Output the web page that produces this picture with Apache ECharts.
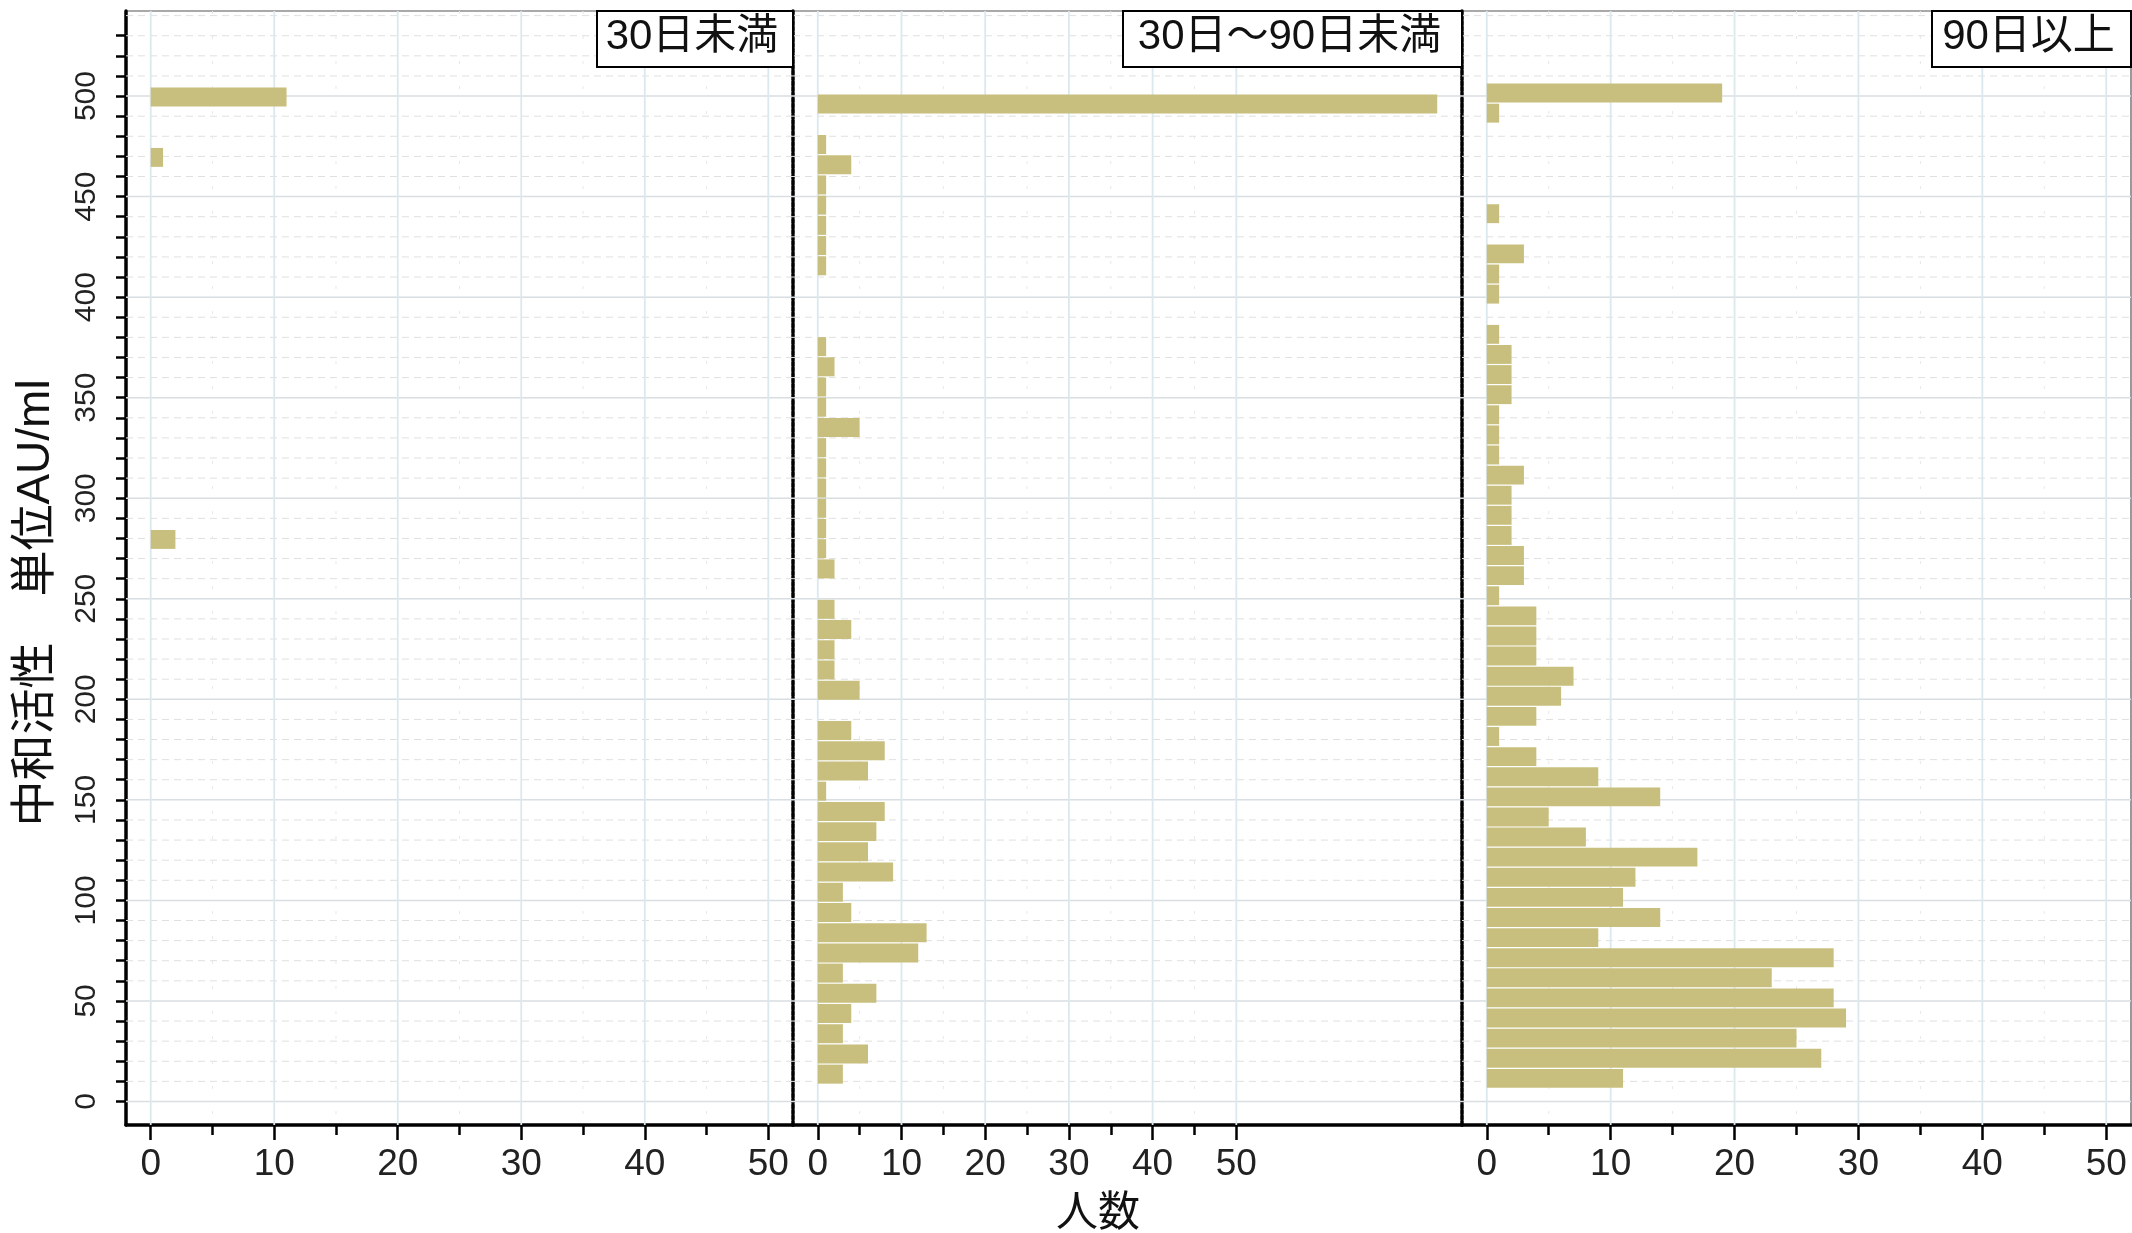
<!DOCTYPE html>
<html>
<head>
<meta charset="utf-8">
<script src="https://cdn.jsdelivr.net/npm/echarts@6/dist/echarts.min.js"></script>
<style>html,body{margin:0;padding:0;background:#fff}#chart{width:2132px;height:1233px}</style>
</head>
<body>
<div id="chart"></div>
<script>
// ---------------- data ----------------
const panelTitles = ['30日未満', '30日～90日未満', '90日以上'];
const xAxisTitle = '人数';
const yAxisTitle = '中和活性　単位AU/ml';

// neutralising activity bins (AU/ml)
const bins = [10,20,30,40,50,60,70,80,90,100,110,120,130,140,150,160,170,180,190,200,
              210,220,230,240,250,260,270,280,290,300,310,320,330,340,350,360,370,380,390,400,
              410,420,430,440,450,460,470,480,490,500];

// number of people per bin
const countsUnder30 = [0,0,0,0,0,0,0,0,0,0, 0,0,0,0,0,0,0,0,0,0,
                       0,0,0,0,0,0,0,2,0,0, 0,0,0,0,0,0,0,0,0,0,
                       0,0,0,0,0,0,1,0,0,11];
const counts30to90 = [3,6,3,4,7,3,12,13,4,3, 9,6,7,8,1,6,8,4,0,5,
                      2,2,4,2,0,2,1,1,1,1, 1,1,5,1,1,2,1,0,0,0,
                      1,1,1,1,1,4,1,0,74,0];
const counts90plus = [11,27,25,29,28,23,28,9,14,11, 12,17,8,5,14,9,4,1,4,6,
                      7,4,4,4,1,3,3,2,2,2, 3,1,1,1,2,2,2,1,0,1,
                      1,3,0,1,0,0,0,0,1,19];

// tick / grid values
const xTickValues = [0,10,20,30,40,50];
const xMinorTickValues = [5,15,25,35,45];
const yTickLabelValues = [0,50,100,150,200,250,300,350,400,450,500];
const yTickValues = [0,10,20,30,40,50,60,70,80,90,100,110,120,130,140,150,160,170,180,190,200,
                     210,220,230,240,250,260,270,280,290,300,310,320,330,340,350,360,370,380,390,400,
                     410,420,430,440,450,460,470,480,490,500,510,520,530];
const hGridMajor = [0,50,100,150,200,250,300,350,400,450,500];
const hGridMinor = [10,20,30,40,60,70,80,90,110,120,130,140,160,170,180,190,210,220,230,240,
                    260,270,280,290,310,320,330,340,360,370,380,390,410,420,430,440,460,470,480,490,
                    510,520,530,540];
const vGridMajor = [0,10,20,30,40,50];
const vGridMinor = [5,15,25,35,45];

// ---------------- layout ----------------
const NUM_FONT = "'Liberation Sans', Arial, sans-serif";
const CJK_FONT = "'Liberation Sans', 'Noto Sans CJK JP', sans-serif";
const BAR_COLOR = '#c8bf7e';
const GRID_TOP = 11, GRID_HEIGHT = 1114;
const panels = [
  {left:126,  width:667, xMin:-2,    xMax:52,    barY:[-11.2, 542.8],  counts:countsUnder30, boxLeft:597},
  {left:793,  width:669, xMin:-2.96, xMax:76.96, barY:[-15.17, 536.07], counts:counts30to90, boxLeft:1123},
  {left:1462, width:669, xMin:-2,    xMax:52,    barY:[-13.2, 540.8],  counts:counts90plus, boxLeft:1932}
];
const Y_MIN = -11.7, Y_MAX = 542.3;
const BAR_THICK = 9.4;

const grid = [], xAxis = [], yAxis = [], series = [], graphic = [];

const gridItems = [];
hGridMajor.forEach(v => gridItems.push([0, v]));
hGridMinor.forEach(v => gridItems.push([1, v]));
vGridMajor.forEach(v => gridItems.push([2, v]));
vGridMinor.forEach(v => gridItems.push([3, v]));

function renderGrid(params, api) {
  const kind = api.value(0), v = api.value(1);
  const cs = params.coordSys;
  if (kind < 2) {
    const y = api.coord([0, v])[1];
    return {type:'line', silent:true,
      shape:{x1:cs.x, y1:y, x2:cs.x + cs.width, y2:y},
      style: kind === 0 ? {stroke:'#d8dee2', lineWidth:1.5}
                        : {stroke:'#e0e0e0', lineWidth:1, lineDash:[7,5]}};
  }
  const x = api.coord([v, 0])[0];
  return {type:'line', silent:true,
    shape:{x1:x, y1:cs.y, x2:x, y2:cs.y + cs.height},
    style: kind === 2 ? {stroke:'#dbe8ee', lineWidth:1.8}
                      : {stroke:'#e8e8e8', lineWidth:1, lineDash:[3,22]}};
}

function renderBar(params, api) {
  const c = api.value(0), v = api.value(1);
  const p0 = api.coord([0, v]);
  const p1 = api.coord([c, v]);
  const h = api.size([0, BAR_THICK])[1];
  return {type:'rect', shape:{x:p0[0], y:p0[1] - h/2, width:p1[0] - p0[0], height:h},
          style:{fill:BAR_COLOR}};
}

panels.forEach((p, i) => {
  grid.push({left:p.left, width:p.width, top:GRID_TOP, height:GRID_HEIGHT,
             show:true, borderColor:'#555', borderWidth:1.2, backgroundColor:'#fff'});
  // main x axis
  xAxis.push({type:'value', gridIndex:i, min:p.xMin, max:p.xMax, position:'bottom',
    axisLine:{show:true, onZero:false, lineStyle:{color:'#000', width:3.5}},
    axisTick:{show:true, customValues:xTickValues, length:15, lineStyle:{color:'#000', width:2.5}},
    axisLabel:{show:true, customValues:xTickValues, fontSize:37, color:'#222', margin:21, fontFamily:NUM_FONT},
    splitLine:{show:false}});
  // minor tick x axis
  xAxis.push({type:'value', gridIndex:i, min:p.xMin, max:p.xMax, position:'bottom',
    axisLine:{show:false, onZero:false},
    axisTick:{show:true, customValues:xMinorTickValues, length:10, lineStyle:{color:'#000', width:2.5}},
    axisLabel:{show:false}, splitLine:{show:false}});
  // displayed y axis
  const yDisp = {type:'value', gridIndex:i, min:Y_MIN, max:Y_MAX, position:'left',
    axisLine:{show:true, onZero:false, lineStyle:{color:'#000', width:3.5, type: i === 0 ? 'solid' : [4, 1.5]}},
    splitLine:{show:false}};
  if (i === 0) {
    yDisp.axisTick = {show:true, customValues:yTickValues, length:10, lineStyle:{color:'#000', width:2.5}};
    yDisp.axisLabel = {show:true, customValues:yTickLabelValues, rotate:90, fontSize:30, color:'#222',
                       margin:24, fontFamily:NUM_FONT};
  } else {
    yDisp.axisTick = {show:false};
    yDisp.axisLabel = {show:false};
  }
  yAxis.push(yDisp);
  // hidden bar y axis
  yAxis.push({type:'value', gridIndex:i, min:p.barY[0], max:p.barY[1], position:'right', show:false,
              axisLine:{onZero:false}});

  series.push({type:'custom', xAxisIndex:i*2, yAxisIndex:i*2, z:1, silent:true,
               renderItem:renderGrid, data:gridItems});
  series.push({type:'custom', xAxisIndex:i*2, yAxisIndex:i*2 + 1, z:2, silent:true,
               renderItem:renderBar,
               data:bins.map((v, k) => [p.counts[k], v]).filter(d => d[0] > 0)});

  // strip label
  const boxRight = p.left + p.width;
  graphic.push({type:'rect', z:100,
    shape:{x:p.boxLeft, y:GRID_TOP, width:boxRight - p.boxLeft, height:56},
    style:{fill:'#fff', stroke:'#000', lineWidth:2}});
  graphic.push({type:'text', z:101, x:(p.boxLeft + boxRight)/2 - 3, y:GRID_TOP + 26,
    style:{text:panelTitles[i], fontSize:42, fontFamily:CJK_FONT, fill:'#111',
           align:'center', verticalAlign:'middle', textAlign:'center', textVerticalAlign:'middle'}});
});

graphic.push({type:'text', z:101, x:1098, y:1214,
  style:{text:xAxisTitle, fontSize:42, fontFamily:CJK_FONT, fill:'#111',
         align:'center', verticalAlign:'middle', textAlign:'center', textVerticalAlign:'middle'}});
graphic.push({type:'text', z:101, x:36, y:603, rotation:Math.PI/2,
  style:{text:yAxisTitle, fontSize:46, fontFamily:CJK_FONT, fill:'#111',
         align:'center', verticalAlign:'middle', textAlign:'center', textVerticalAlign:'middle'}});

const chart = echarts.init(document.getElementById('chart'), null, {renderer:'canvas'});
chart.setOption({
  animation:false,
  backgroundColor:'#fff',
  grid, xAxis, yAxis, series, graphic
});
</script>
</body>
</html>
